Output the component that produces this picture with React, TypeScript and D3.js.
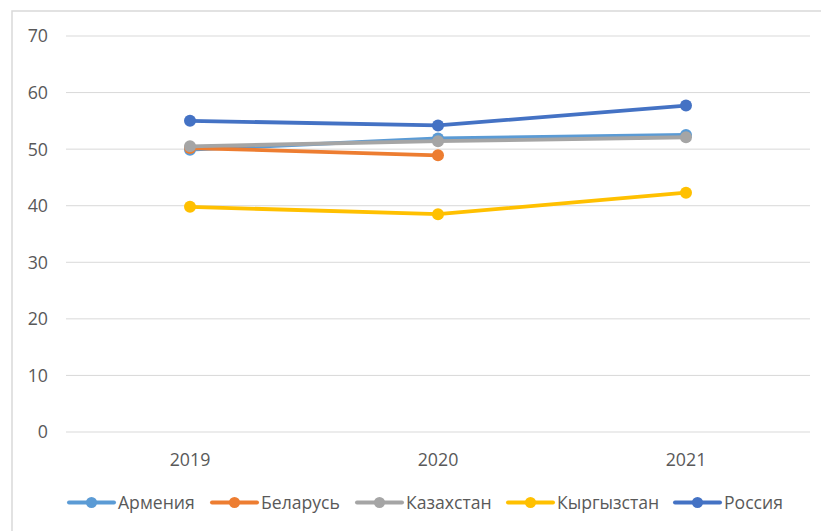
import React, { useEffect, useRef } from "react";
import { select, scaleLinear, scalePoint, line, range } from "d3";

const years = ["2019", "2020", "2021"];
const armenia = [49.9, 51.9, 52.5];
const belarus = [50.2, 48.9, null];
const kazakhstan = [50.5, 51.4, 52.1];
const kyrgyzstan = [39.8, 38.5, 42.3];
const russia = [55.0, 54.2, 57.7];
const yTicks = [0, 10, 20, 30, 40, 50, 60, 70];

const seriesNames = ["Армения", "Беларусь", "Казахстан", "Кыргызстан", "Россия"];
const seriesColors = ["#5B9BD5", "#ED7D31", "#A5A5A5", "#FFC000", "#4472C4"];
const seriesValues = [armenia, belarus, kazakhstan, kyrgyzstan, russia];

const WIDTH = 821;
const HEIGHT = 531;
const FONT = "'Open Sans', 'Noto Sans', sans-serif";

const App = () => {
  const svgRef = useRef<SVGSVGElement | null>(null);

  useEffect(() => {
    const svg = select(svgRef.current);
    svg.selectAll("*").remove();

    // frame
    svg
      .append("rect")
      .attr("x", 12)
      .attr("y", 11)
      .attr("width", WIDTH)
      .attr("height", HEIGHT)
      .attr("fill", "#fff")
      .attr("stroke", "#D9D9D9")
      .attr("stroke-width", 1.5);

    const yScale = scaleLinear().domain([0, 70]).range([432, 36]);
    const xScale = scalePoint<string>().domain(years).range([66, 810]).padding(0.5);

    // gridlines
    svg
      .append("g")
      .selectAll("line")
      .data(yTicks)
      .enter()
      .append("line")
      .attr("x1", 66)
      .attr("x2", 810)
      .attr("y1", (d) => yScale(d))
      .attr("y2", (d) => yScale(d))
      .attr("stroke", "#D9D9D9")
      .attr("stroke-width", 1);

    // y labels
    svg
      .append("g")
      .selectAll("text")
      .data(yTicks)
      .enter()
      .append("text")
      .attr("x", 48)
      .attr("y", (d) => yScale(d))
      .attr("dy", "0.36em")
      .attr("text-anchor", "end")
      .attr("font-family", FONT)
      .attr("font-size", 17.8)
      .attr("fill", "#595959")
      .text((d) => d);

    // x labels
    svg
      .append("g")
      .selectAll("text")
      .data(years)
      .enter()
      .append("text")
      .attr("x", (d) => xScale(d)!)
      .attr("y", 466)
      .attr("text-anchor", "middle")
      .attr("font-family", FONT)
      .attr("font-size", 17.8)
      .attr("fill", "#595959")
      .text((d) => d);

    // series
    const lineGen = line<number | null>()
      .defined((d) => d !== null)
      .x((_, i) => xScale(years[i])!)
      .y((d) => yScale(d as number));

    seriesValues.forEach((vals, si) => {
      const g = svg.append("g");
      g.append("path")
        .attr("d", lineGen(vals))
        .attr("fill", "none")
        .attr("stroke", seriesColors[si])
        .attr("stroke-width", 3.8)
        .attr("stroke-linejoin", "round")
        .attr("stroke-linecap", "round");
      g.selectAll("circle")
        .data(range(vals.length).filter((i) => vals[i] !== null))
        .enter()
        .append("circle")
        .attr("cx", (i) => xScale(years[i])!)
        .attr("cy", (i) => yScale(vals[i] as number))
        .attr("r", 6)
        .attr("fill", seriesColors[si]);
    });

    // legend
    const legendX = [69, 212, 357, 508, 675];
    const legend = svg.append("g");
    seriesNames.forEach((name, si) => {
      const x0 = legendX[si];
      const item = legend.append("g");
      item
        .append("line")
        .attr("x1", x0)
        .attr("x2", x0 + 45)
        .attr("y1", 502.5)
        .attr("y2", 502.5)
        .attr("stroke", seriesColors[si])
        .attr("stroke-width", 4)
        .attr("stroke-linecap", "round");
      item
        .append("circle")
        .attr("cx", x0 + 22.5)
        .attr("cy", 502.5)
        .attr("r", 5.5)
        .attr("fill", seriesColors[si]);
      item
        .append("text")
        .attr("x", x0 + 49)
        .attr("y", 509)
        .attr("font-family", FONT)
        .attr("font-size", 17.6)
        .attr("fill", "#595959")
        .text(name);
    });
  }, []);

  return (
    <svg
      ref={svgRef}
      width={WIDTH}
      height={HEIGHT}
      style={{ position: "fixed", left: 0, top: 0, background: "#fff" }}
    ></svg>
  );
};

export default App;
